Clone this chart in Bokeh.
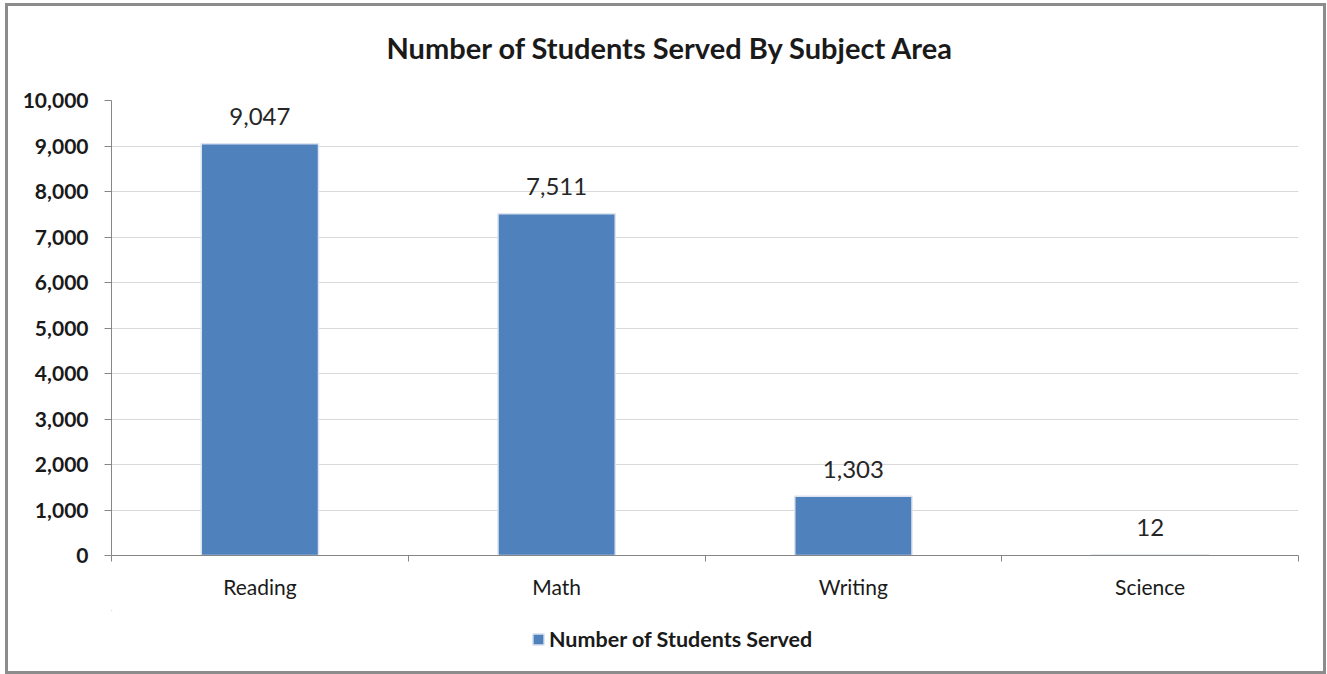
from bokeh.plotting import figure
from bokeh.layouts import column
from bokeh.models import (Range1d, LinearAxis, FixedTicker, NumeralTickFormatter,
                          Legend, LegendItem, ColumnDataSource, Title)
from bokeh.core.properties import value
from bokeh.embed import file_html
from bokeh.resources import INLINE

# ---- data ----
categories = ["Reading", "Math", "Writing", "Science"]
students = [9047, 7511, 1303, 12]
y_ticks = [0, 1000, 2000, 3000, 4000, 5000, 6000, 7000, 8000, 9000, 10000]
series_name = "Number of Students Served"
chart_title = "Number of Students Served By Subject Area"

FONT = "Lato"
BAR = "#4F81BD"
BAR_EDGE = "#dbe4ef"
AXIS = "#868686"
GRID = "#D9D9D9"
TXT = "#1a1a1a"

n = len(categories)
x_pos = [i + 0.5 for i in range(n)]
bounds = [float(i) for i in range(n + 1)]
labels = [f"{v:,}" for v in students]

src = ColumnDataSource(dict(x=x_pos, top=students, label=labels, cat=categories))

W = 1315
p = figure(width=W, height=604,
           x_range=Range1d(0, n), y_range=Range1d(y_ticks[0], y_ticks[-1]),
           x_axis_location=None, y_axis_location=None,
           output_backend="svg", toolbar_location=None,
           min_border_left=103, min_border_right=25,
           min_border_top=94, min_border_bottom=55)
p.title_location = None
p.outline_line_color = None
p.background_fill_color = "white"
p.border_fill_color = "white"

p.xgrid.visible = False
p.ygrid.ticker = FixedTicker(ticks=y_ticks)
p.ygrid.grid_line_color = GRID
p.ygrid.grid_line_width = 1

# y axis
yaxis = LinearAxis(ticker=FixedTicker(ticks=y_ticks, minor_ticks=[]),
                   formatter=NumeralTickFormatter(format="0,0"))
yaxis.axis_line_color = AXIS
yaxis.major_tick_line_color = AXIS
yaxis.major_tick_in = 0
yaxis.major_tick_out = 7
yaxis.minor_tick_in = 0
yaxis.minor_tick_out = 0
yaxis.major_label_standoff = 16
yaxis.major_label_text_font = FONT
yaxis.major_label_text_font_size = "21px"
yaxis.major_label_text_font_style = "bold"
yaxis.major_label_text_color = TXT
p.add_layout(yaxis, "left")

# x axis: labels at category centres, ticks on category boundaries
xaxis = LinearAxis(ticker=FixedTicker(ticks=x_pos, minor_ticks=bounds),
                   major_label_overrides={x: c for x, c in zip(x_pos, categories)})
xaxis.axis_line_color = AXIS
xaxis.major_tick_in = 0
xaxis.major_tick_out = 0
xaxis.minor_tick_in = 0
xaxis.minor_tick_out = 6
xaxis.minor_tick_line_color = AXIS
xaxis.major_label_standoff = 12
xaxis.major_label_text_font = FONT
xaxis.major_label_text_font_size = "21px"
xaxis.major_label_text_color = TXT
p.add_layout(xaxis, "below")

bars = p.vbar(x="x", top="top", bottom=0, width=0.395, source=src,
              fill_color=BAR, line_color=BAR_EDGE, line_width=1.5)

p.text(x="x", y="top", text="label", source=src, text_align="center",
       text_baseline="alphabetic", y_offset=-27,
       text_font=value(FONT), text_font_size="24px", text_color="#262626")

# empty spacer between the plot area and the title, then the title itself
spacer = Title(text=" ", text_font=FONT, text_font_size="20px", standoff=10)
p.add_layout(spacer, "above")
title = Title(text=chart_title, align="left", offset=275, standoff=0,
              text_font=FONT, text_font_size="29px", text_font_style="bold",
              text_color=TXT)
p.add_layout(title, "above")

# ---- legend strip below the chart (same series; its view shows no bars) ----
leg = figure(width=W, height=61, x_range=Range1d(n + 10, n + 11),
             y_range=Range1d(-3, -2),
             x_axis_location=None, y_axis_location=None,
             output_backend="svg", toolbar_location=None,
             min_border=0)
leg.outline_line_color = None
leg.xgrid.visible = False
leg.ygrid.visible = False
leg.border_fill_color = "white"
leg_bar = leg.vbar(x="x", top="top", bottom=0, width=0.395, source=src,
                   fill_color=BAR, line_color=BAR_EDGE, line_width=1.5)

legend = Legend(items=[LegendItem(label=series_name, renderers=[leg_bar])],
                location=(420, 19), orientation="horizontal")
legend.glyph_width = 14
legend.glyph_height = 14
legend.label_text_font = FONT
legend.label_text_font_size = "21.5px"
legend.label_text_font_style = "bold"
legend.label_text_color = TXT
legend.border_line_color = None
legend.background_fill_alpha = 0
legend.padding = 0
legend.margin = 0
legend.label_standoff = 4
leg.add_layout(legend, "center")

layout = column(p, leg, spacing=0,
                styles={"border": "3px solid #8c8c8c",
                        "margin-left": "5px", "margin-top": "3px",
                        "background-color": "white"})

open("out.html", "w").write(file_html(layout, INLINE))
